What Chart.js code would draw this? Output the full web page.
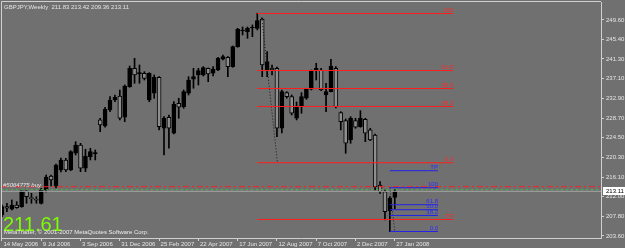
<!DOCTYPE html>
<html>
<head>
<meta charset="utf-8">
<script src="https://cdn.jsdelivr.net/npm/chart.js@4/dist/chart.umd.min.js"></script>
<style>
  html, body { margin: 0; padding: 0; background: #707070; }
</style>
</head>
<body>
<canvas id="chart" width="625" height="248"></canvas>
<script>
// weekly GBPJPY bars
const dateLabels = ['14 May 2006', '9 Jul 2006', '3 Sep 2006', '31 Dec 2006', '25 Feb 2007', '22 Apr 2007',
                    '17 Jun 2007', '12 Aug 2007', '7 Oct 2007', '2 Dec 2007', '27 Jan 2008'];
const dateTickBars = [0, 8, 16, 24, 32, 40, 48, 56, 64, 72, 80];
const priceTicks = [249.60, 245.40, 241.30, 237.10, 232.90, 228.70, 224.50, 220.30, 216.10, 212.00, 207.80, 203.60];

const opens = [208.07, 209.84, 209.29, 210.20, 209.84, 213.19, 211.76, 211.42, 210.56, 213.40,
               216.38, 214.25, 217.66, 219.79, 217.66, 221.21, 222.98, 218.02, 220.49, 221.13,
               228.31, 227.03, 230.43, 232.56, 233.42, 228.88, 235.40, 239.31, 238.16, 238.25,
               232.56, 233.99, 237.40, 226.54, 228.88, 225.47, 231.86, 231.14, 233.99, 236.97,
               237.89, 237.89, 239.31, 238.25, 238.95, 241.23, 241.66, 239.66, 243.91, 247.26,
               247.11, 247.90, 247.83, 249.81, 238.95, 239.38, 239.31, 226.54, 234.12, 233.27,
               228.67, 231.14, 232.93, 234.84, 238.95, 238.95, 233.63, 234.33, 239.31, 229.86,
               228.16, 224.05, 228.16, 226.88, 228.45, 226.18, 225.11, 214.46, 213.04, 209.00,
               211.83];
const highs = [210.20, 210.56, 211.27, 210.90, 213.40, 213.40, 212.69, 211.97, 213.76, 216.59,
               216.59, 218.93, 220.21, 220.14, 221.77, 223.68, 223.34, 222.07, 222.28, 221.92,
               228.67, 231.01, 233.27, 233.63, 234.69, 235.76, 239.80, 241.44, 240.02, 238.59,
               238.38, 237.89, 237.53, 229.01, 229.37, 232.20, 232.93, 234.69, 237.53, 239.31,
               239.31, 239.66, 239.40, 239.66, 241.66, 242.15, 241.78, 244.06, 247.83, 248.11,
               248.11, 248.54, 251.05, 249.96, 242.85, 240.02, 239.59, 234.69, 234.33, 233.63,
               232.14, 234.12, 235.06, 238.95, 240.38, 239.31, 236.12, 241.23, 239.66, 230.07,
               228.52, 229.01, 228.67, 230.29, 228.67, 226.54, 225.30, 215.17, 213.40, 211.97,
               213.42];
const lows = [207.71, 208.78, 209.14, 209.50, 209.71, 210.56, 210.56, 210.56, 210.41, 212.97,
              214.25, 213.82, 217.23, 217.30, 217.51, 220.85, 217.30, 217.30, 219.79, 219.79,
              225.82, 226.75, 230.07, 232.20, 228.31, 227.94, 235.27, 236.12, 236.12, 236.82,
              232.20, 232.93, 226.18, 220.85, 222.28, 225.32, 228.67, 230.80, 233.63, 235.06,
              235.76, 237.67, 236.46, 237.67, 238.80, 241.08, 237.53, 239.53, 243.79, 246.41,
              245.70, 246.04, 247.47, 237.53, 237.53, 237.89, 224.75, 225.54, 232.93, 229.37,
              228.31, 229.73, 232.71, 234.69, 236.82, 234.55, 230.07, 234.27, 230.86, 226.18,
              221.21, 223.34, 226.54, 226.75, 223.68, 223.90, 213.40, 212.69, 207.01, 204.52,
              209.36];
const closes = [209.84, 209.50, 210.20, 209.63, 213.19, 211.97, 211.55, 211.20, 213.40, 216.17,
                215.53, 218.72, 219.79, 217.66, 221.55, 222.98, 218.02, 220.64, 221.55, 221.28,
                227.24, 230.58, 232.56, 233.14, 228.67, 235.55, 239.31, 237.89, 238.31, 237.18,
                238.25, 237.40, 226.88, 228.67, 226.54, 231.71, 231.01, 234.33, 236.82, 237.53,
                238.80, 239.44, 238.10, 239.17, 241.44, 241.78, 239.66, 243.91, 247.62, 247.47,
                247.83, 248.11, 249.45, 240.02, 240.72, 238.95, 226.54, 234.33, 233.27, 229.73,
                231.29, 233.27, 234.84, 238.80, 239.31, 234.69, 234.33, 239.80, 231.14, 227.94,
                223.34, 228.67, 226.75, 228.67, 225.47, 224.05, 214.10, 213.04, 208.78, 211.63,
                213.11];

// fibonacci objects drawn on the chart
const redFibLevels = [250.98, 238.84, 235.01, 231.18, 219.20, 207.11];
const redFibNames = ['100', '61.8', '50.0', '38.2', '0.0', 'TP'];
const redFibFrom = 52, redFibTo = 91.9;
const redFibDiag = [{ x: 52.9, y: 250.2 }, { x: 56.1, y: 219.2 }];
const blueFibLevels = [217.50, 213.88, 210.26, 209.19, 207.97, 204.56];
const blueFibNames = ['TP', '100', '61.8', '50.0', '38.2', '0.0'];
const blueFibFrom = 79, blueFibTo = 88.8;
const blueFibDiag = [{ x: 79, y: 213.9 }, { x: 80, y: 204.5 }];

const orderPrice = 214.09;
const stopPrice = 213.45;
const bidPrice = 213.11;
const lastValue = '211.61';

const X_MIN = -0.2, X_MAX = 122;
const FONT = '"Liberation Sans", Arial, sans-serif';

function hline(price, from, to, color, dash) {
    return {
        type: 'line',
        data: [{ x: from, y: price }, { x: to, y: price }],
        borderColor: color,
        borderWidth: 1,
        borderDash: dash || [],
        pointRadius: 0,
        order: -1
    };
}

const fibSets = [
    ...redFibLevels.map(p => hline(p, redFibFrom, redFibTo, '#ff1e1e')),
    ...blueFibLevels.map(p => hline(p, blueFibFrom, blueFibTo, '#2222e6')),
    { type: 'line', data: redFibDiag, borderColor: '#1a1a1a', borderWidth: 1, borderDash: [1, 2], pointRadius: 0, order: -1 },
    { type: 'line', data: blueFibDiag, borderColor: '#1a1a1a', borderWidth: 1, borderDash: [1, 2], pointRadius: 0, order: -1 },
    hline(bidPrice, X_MIN, X_MAX, '#a4a4a4'),
    hline(stopPrice, X_MIN, X_MAX, '#3fbf3f', [2, 3]),
    hline(orderPrice, X_MIN, X_MAX, '#ff1e1e', [6, 3, 2, 3])
];

const decor = {
    id: 'decor',
    beforeDraw(chart) {
        const ctx = chart.ctx;
        ctx.save();
        ctx.fillStyle = '#707070';
        ctx.fillRect(0, 0, chart.width, chart.height);
        ctx.restore();
    },
    afterDatasetsDraw(chart) {
        const { ctx, chartArea: a, scales: { x, y } } = chart;
        ctx.save();
        ctx.font = '6px ' + FONT;
        ctx.textAlign = 'right';
        ctx.textBaseline = 'bottom';
        ctx.fillStyle = '#ff2a2a';
        redFibLevels.forEach((p, k) => ctx.fillText(redFibNames[k], x.getPixelForValue(redFibTo), y.getPixelForValue(p) - 0.5));
        ctx.fillStyle = '#2a2aff';
        blueFibLevels.forEach((p, k) => ctx.fillText(blueFibNames[k], x.getPixelForValue(blueFibTo), y.getPixelForValue(p) - 0.5));

        ctx.textAlign = 'left';
        ctx.fillStyle = '#e4e4e4';
        ctx.font = 'italic 6px ' + FONT;
        ctx.fillText('#5064775 buy', a.left + 2, y.getPixelForValue(orderPrice) + 1.5);

        const n = closes.length - 1;
        ctx.font = '6px ' + FONT;
        ctx.textBaseline = 'alphabetic';
        ctx.fillText('GBPJPY,Weekly  ' + [opens[n], highs[n], lows[n], closes[n]].map(v => v.toFixed(2)).join(' '), 4, 9);

        ctx.font = '20px ' + FONT;
        ctx.fillStyle = '#7cfc00';
        ctx.fillText(lastValue, 3, 231);

        ctx.font = '6px ' + FONT;
        ctx.fillStyle = '#ececec';
        ctx.fillText('MetaTrader, \u00a9 2001-2007 MetaQuotes Software Corp.', 4, 234);
        ctx.restore();
    },
    afterDraw(chart) {
        const { ctx, chartArea: a, scales: { y } } = chart;
        ctx.save();
        ctx.strokeStyle = '#d0d0d0';
        ctx.lineWidth = 1;
        ctx.beginPath();
        ctx.moveTo(a.left + 0.5, a.bottom);
        ctx.lineTo(a.left + 0.5, a.top - 0.5);
        ctx.lineTo(a.right, a.top - 0.5);
        ctx.stroke();

        // current price box on the axis
        const py = Math.round(y.getPixelForValue(bidPrice));
        ctx.fillStyle = '#ffffff';
        ctx.fillRect(a.right + 2, py - 4, 22, 8);
        ctx.fillStyle = '#000000';
        ctx.font = '6px ' + FONT;
        ctx.textBaseline = 'middle';
        ctx.fillText(bidPrice.toFixed(2), a.right + 5, py + 0.5);
        ctx.restore();
    }
};

const ctx = document.getElementById('chart').getContext('2d');
new Chart(ctx, {
    type: 'bar',
    data: {
        datasets: [
            {
                label: 'body',
                data: opens.map((o, i) => ({ x: i, y: [o, closes[i]] })),
                backgroundColor: opens.map((o, i) => closes[i] >= o ? '#000000' : '#8e8e8e'),
                borderColor: '#000000',
                borderWidth: 1,
                borderSkipped: false,
                barThickness: 4,
                minBarLength: 1,
                grouped: false,
                order: 0
            },
            {
                label: 'wick',
                data: lows.map((l, i) => ({ x: i, y: [l, highs[i]] })),
                backgroundColor: '#000000',
                borderWidth: 0,
                barThickness: 1,
                grouped: false,
                order: 1
            },
            ...fibSets
        ]
    },
    options: {
        responsive: false,
        animation: false,
        events: [],
        layout: { padding: { left: 1, top: 2, right: 0, bottom: 0 } },
        plugins: { legend: { display: false }, tooltip: { enabled: false } },
        scales: {
            x: {
                type: 'linear',
                offset: false,
                min: X_MIN,
                max: X_MAX,
                afterBuildTicks: s => { s.ticks = dateTickBars.map(v => ({ value: v })); },
                afterFit: s => { s.height = 10; s.paddingLeft = 0; s.paddingRight = 0; },
                ticks: {
                    callback: v => dateLabels[dateTickBars.indexOf(v)],
                    align: 'start',
                    labelOffset: 1.5,
                    maxRotation: 0,
                    autoSkip: false,
                    padding: 0,
                    color: '#e6e6e6',
                    font: { size: 6, family: FONT }
                },
                grid: { offset: false, drawOnChartArea: false, tickLength: 3, color: '#d0d0d0' },
                border: { color: '#d0d0d0' }
            },
            y: {
                type: 'linear',
                position: 'right',
                min: 203.17,
                max: 253.43,
                afterBuildTicks: s => { s.ticks = priceTicks.map(v => ({ value: v })); },
                afterFit: s => { s.width = 24; s.paddingTop = 0; s.paddingBottom = 0; },
                ticks: {
                    callback: v => v.toFixed(2),
                    padding: 2,
                    color: '#e6e6e6',
                    font: { size: 6, family: FONT }
                },
                grid: { drawOnChartArea: false, tickLength: 3, color: '#d0d0d0' },
                border: { color: '#d0d0d0' }
            }
        }
    },
    plugins: [decor]
});
</script>
</body>
</html>
